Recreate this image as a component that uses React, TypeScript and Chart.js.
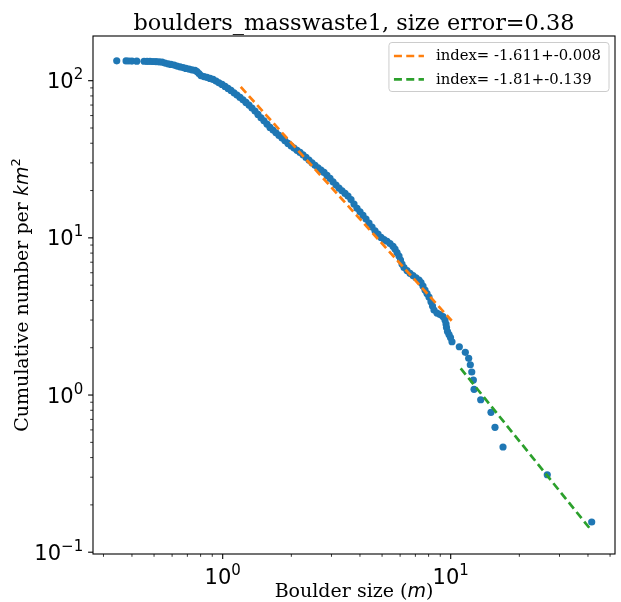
import React, { useEffect, useRef } from 'react';
import { Chart, registerables } from 'chart.js';

Chart.register(...registerables);

// ---- data ----
const boulderSize = [
  0.343, 0.377, 0.388, 0.400, 0.420, 0.452, 0.466, 0.480, 0.495, 0.510,
  0.526, 0.542, 0.558, 0.576, 0.593, 0.612, 0.630, 0.650, 0.670, 0.690,
  0.712, 0.733, 0.756, 0.771, 0.787, 0.803, 0.828, 0.853, 0.880, 0.907,
  0.935, 0.963, 0.993, 1.024, 1.055, 1.087, 1.121, 1.155, 1.191, 1.227,
  1.265, 1.304, 1.344, 1.386, 1.428, 1.472, 1.517, 1.564, 1.612, 1.662,
  1.713, 1.766, 1.820, 1.876, 1.934, 1.993, 2.055, 2.118, 2.183, 2.250,
  2.319, 2.390, 2.464, 2.540, 2.618, 2.698, 2.782, 2.867, 2.955, 3.046,
  3.140, 3.236, 3.336, 3.439, 3.544, 3.653, 3.766, 3.882, 4.001, 4.124,
  4.251, 4.382, 4.517, 4.656, 4.799, 4.947, 5.099, 5.256, 5.418, 5.584,
  5.698, 5.814, 5.932, 6.023, 6.115, 6.240, 6.432, 6.630, 6.834, 7.045,
  7.261, 7.408, 7.558, 7.713, 7.870, 8.030, 8.194, 8.320, 8.447, 8.708,
  8.976, 9.252, 9.441, 9.537, 9.585, 9.683, 9.829, 9.979, 10.13,
  10.91, 11.59, 11.99, 12.19, 12.37, 12.57, 12.66, 13.54, 15.02, 15.64,
  16.96, 26.52, 41.53,
];
const cumulativeDensity = [
  133.8, 133.6, 133.5, 133.4, 133.2, 133.0, 132.9, 132.7, 132.5, 132.2,
  131.9, 131.3, 129.4, 128.1, 127.0, 125.7, 123.9, 122.6, 121.2, 119.7,
  118.5, 117.3, 116.3, 114.3, 111.0, 107.8, 106.2, 105.0, 103.4, 101.9,
  99.4, 96.9, 94.7, 91.97, 89.33, 86.75, 83.76, 81.0, 78.31, 75.61,
  72.78, 69.97, 66.96, 64.07, 61.05, 58.08, 55.58, 52.96, 50.46, 48.51,
  46.63, 44.87, 43.14, 41.47, 39.92, 38.54, 37.27, 36.04, 34.99, 33.79,
  32.52, 31.26, 30.05, 28.93, 27.92, 27.0, 26.1, 24.98, 23.91, 22.75,
  21.68, 20.74, 19.94, 19.19, 18.45, 17.52, 16.41, 15.41, 14.66, 13.9,
  13.17, 12.42, 11.72, 11.1, 10.57, 10.07, 9.755, 9.515, 9.198, 8.829,
  8.487, 8.064, 7.661, 7.224, 6.812, 6.472, 6.194, 5.945, 5.757, 5.575,
  5.39, 5.196, 4.936, 4.655, 4.423, 4.202, 3.922, 3.683, 3.473, 3.323,
  3.251, 3.158, 3.0, 2.829, 2.688, 2.535, 2.426, 2.322, 2.183,
  2.029, 1.869, 1.712, 1.558, 1.401, 1.246, 1.087, 0.933, 0.776, 0.623,
  0.467, 0.311, 0.1556,
];
const fit1Size = [1.2, 10.1];
const fit1Density = [91.3, 2.97];
const fit2Size = [11.06, 41.5];
const fit2Density = [1.478, 0.137];

const fit1Label = 'index= -1.611+-0.008';
const fit2Label = 'index= -1.81+-0.139';
const titleText = 'boulders_masswaste1, size error=0.38';
const xLabelParts = ['Boulder size (', 'm', ')'];
const yLabelParts = ['Cumulative number per ', 'km', '2'];

const xRange = [0.2699, 52.55];
const yRange = [0.0974, 192.5];
const majorTickValues = [0.1, 1, 10, 100];
const majorTickExponents = ['\u22121', '0', '1', '2'];

const BLUE = '#1f77b4';
const ORANGE = '#ff7f0e';
const GREEN = '#2ca02c';

function logTicks(min: number, max: number): number[] {
  const out: number[] = [];
  for (let e = -3; e <= 4; e++) {
    for (let m = 1; m <= 9; m++) {
      const v = parseFloat((m * Math.pow(10, e)).toPrecision(6));
      if (v >= min * 0.9999 && v <= max * 1.0001) out.push(v);
    }
  }
  return out;
}
function majorIndex(v: number): number {
  return majorTickValues.findIndex((m) => Math.abs(v - m) / m < 1e-6);
}
function isMajor(v: number): boolean {
  return majorIndex(v) >= 0;
}

const SERIF = "'DejaVu Serif', serif";
const SANS = "'DejaVu Sans', sans-serif";

type Part = { text: string; font: string; dy?: number };
function richWidth(ctx: CanvasRenderingContext2D, parts: Part[]) {
  let total = 0;
  parts.forEach((p) => {
    ctx.font = p.font;
    total += ctx.measureText(p.text).width;
  });
  return total;
}
function drawRich(ctx: CanvasRenderingContext2D, parts: Part[], x0: number, y: number, align: 'center' | 'right' | 'left') {
  const total = richWidth(ctx, parts);
  let x = align === 'center' ? x0 - total / 2 : align === 'right' ? x0 - total : x0;
  ctx.textAlign = 'left';
  parts.forEach((p) => {
    ctx.font = p.font;
    ctx.fillText(p.text, x, y + (p.dy || 0));
    x += ctx.measureText(p.text).width;
  });
}
function tickParts(v: number): Part[] {
  const i = majorIndex(v);
  return [
    { text: '10', font: `21px ${SANS}` },
    { text: majorTickExponents[i], font: `15px ${SANS}`, dy: -9 },
  ];
}

const decorPlugin = {
  id: 'decor',
  afterDraw(chart: any) {
    const { ctx, chartArea: a, scales } = chart;
    const xs = scales.x;
    const ys = scales.y;
    ctx.save();
    // frame
    ctx.strokeStyle = '#000';
    ctx.lineWidth = 1.1;
    ctx.strokeRect(a.left, a.top, a.right - a.left, a.bottom - a.top);
    ctx.fillStyle = '#000';
    ctx.textBaseline = 'alphabetic';
    // x ticks + labels
    logTicks(xRange[0], xRange[1]).forEach((v) => {
      const px = xs.getPixelForValue(v);
      const maj = isMajor(v);
      ctx.lineWidth = maj ? 1.1 : 0.8;
      ctx.beginPath();
      ctx.moveTo(px, a.bottom);
      ctx.lineTo(px, a.bottom + (maj ? 4.9 : 2.8));
      ctx.stroke();
      if (maj) drawRich(ctx, tickParts(v), px, a.bottom + 29.5, 'center');
    });
    // y ticks + labels
    logTicks(yRange[0], yRange[1]).forEach((v) => {
      const py = ys.getPixelForValue(v);
      const maj = isMajor(v);
      ctx.lineWidth = maj ? 1.1 : 0.8;
      ctx.beginPath();
      ctx.moveTo(a.left, py);
      ctx.lineTo(a.left - (maj ? 4.9 : 2.8), py);
      ctx.stroke();
      if (maj) drawRich(ctx, tickParts(v), a.left - 9.8, py + 7.6, 'right');
    });
    // title
    drawRich(ctx, [{ text: titleText, font: `22.4px ${SERIF}` }], (a.left + a.right) / 2, 30, 'center');
    // x label
    drawRich(
      ctx,
      [
        { text: xLabelParts[0], font: `19px ${SERIF}` },
        { text: xLabelParts[1], font: `italic 19px ${SANS}` },
        { text: xLabelParts[2], font: `19px ${SERIF}` },
      ],
      (a.left + a.right) / 2,
      597,
      'center'
    );
    // y label
    ctx.save();
    ctx.translate(27.5, (a.top + a.bottom) / 2);
    ctx.rotate(-Math.PI / 2);
    drawRich(
      ctx,
      [
        { text: yLabelParts[0], font: `19px ${SERIF}` },
        { text: yLabelParts[1], font: `italic 19px ${SANS}` },
        { text: yLabelParts[2], font: `13px ${SANS}`, dy: -8 },
      ],
      0,
      0,
      'center'
    );
    ctx.restore();
    // legend
    const fs = 14.8;
    ctx.font = `${fs}px ${SERIF}`;
    const tw = Math.max(ctx.measureText(fit1Label).width, ctx.measureText(fit2Label).width);
    const right = a.right - 6;
    const top = a.top + 6.5;
    const width = 5 + 30 + 12 + tw + 8;
    const height = 49;
    const left = right - width;
    ctx.beginPath();
    const r = 3;
    ctx.moveTo(left + r, top);
    ctx.lineTo(right - r, top);
    ctx.quadraticCurveTo(right, top, right, top + r);
    ctx.lineTo(right, top + height - r);
    ctx.quadraticCurveTo(right, top + height, right - r, top + height);
    ctx.lineTo(left + r, top + height);
    ctx.quadraticCurveTo(left, top + height, left, top + height - r);
    ctx.lineTo(left, top + r);
    ctx.quadraticCurveTo(left, top, left + r, top);
    ctx.closePath();
    ctx.fillStyle = 'rgba(255,255,255,0.8)';
    ctx.fill();
    ctx.strokeStyle = '#cccccc';
    ctx.lineWidth = 1;
    ctx.stroke();
    const rows = [
      { label: fit1Label, color: ORANGE, y: top + 13.5 },
      { label: fit2Label, color: GREEN, y: top + 36.8 },
    ];
    rows.forEach((row) => {
      ctx.strokeStyle = row.color;
      ctx.lineWidth = 2.7;
      ctx.setLineDash([8, 4.3]);
      ctx.beginPath();
      ctx.moveTo(left + 5, row.y);
      ctx.lineTo(left + 35, row.y);
      ctx.stroke();
      ctx.setLineDash([]);
      ctx.fillStyle = '#000';
      ctx.font = `${fs}px ${SERIF}`;
      ctx.textBaseline = 'middle';
      ctx.textAlign = 'left';
      ctx.fillText(row.label, left + 47, row.y + 0.5);
    });
    ctx.restore();
  },
};

export default function App() {
  const canvasRef = useRef<HTMLCanvasElement | null>(null);

  useEffect(() => {
    if (!canvasRef.current) return;
    const points = boulderSize.map((s, i) => ({ x: s, y: cumulativeDensity[i] }));
    const fit1 = fit1Size.map((s, i) => ({ x: s, y: fit1Density[i] }));
    const fit2 = fit2Size.map((s, i) => ({ x: s, y: fit2Density[i] }));

    const makeScale = (range: number[], isX: boolean) => ({
      type: 'logarithmic',
      min: range[0],
      max: range[1],
      border: { display: false },
      grid: { display: false, drawTicks: false },
      afterBuildTicks: (scale: any) => {
        scale.ticks = logTicks(range[0], range[1]).map((v) => ({ value: v, major: isMajor(v) }));
      },
      afterFit: (scale: any) => {
        if (isX) scale.height = 48;
        else scale.width = 93;
      },
      ticks: { display: false, autoSkip: false },
    });

    const chart = new Chart(canvasRef.current, {
      type: 'scatter',
      data: {
        datasets: [
          {
            type: 'line',
            label: fit1Label,
            data: fit1,
            borderColor: ORANGE,
            borderWidth: 2.7,
            borderDash: [8, 4.3],
            pointRadius: 0,
            showLine: true,
            fill: false,
            order: 1,
          },
          {
            type: 'line',
            label: fit2Label,
            data: fit2,
            borderColor: GREEN,
            borderWidth: 2.7,
            borderDash: [8, 4.3],
            pointRadius: 0,
            showLine: true,
            fill: false,
            order: 2,
          },
          {
            type: 'scatter',
            label: 'boulders',
            data: points,
            backgroundColor: BLUE,
            borderColor: BLUE,
            borderWidth: 0,
            pointRadius: 3.6,
            order: 3,
          },
        ] as any,
      },
      options: {
        animation: false,
        responsive: false,
        maintainAspectRatio: false,
        devicePixelRatio: 1,
        layout: { padding: { top: 36, right: 6, left: 0, bottom: 0 } },
        plugins: {
          legend: { display: false },
          tooltip: { enabled: false },
          title: { display: false },
        },
        scales: {
          x: makeScale(xRange, true),
          y: makeScale(yRange, false),
        } as any,
      },
      plugins: [decorPlugin],
    });
    return () => chart.destroy();
  }, []);

  return (
    <div style={{ position: 'absolute', left: 0, top: 0, width: 621, height: 602, background: '#fff' }}>
      <canvas ref={canvasRef} width={621} height={602} style={{ width: 621, height: 602, display: 'block' }} />
    </div>
  );
}
